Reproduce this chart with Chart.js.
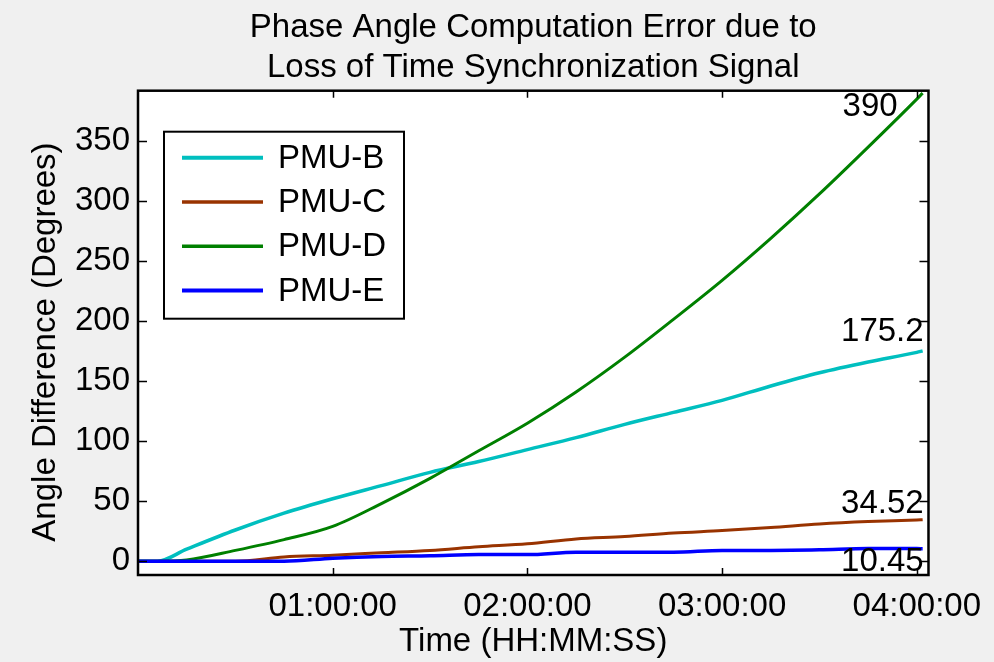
<!DOCTYPE html>
<html>
<head>
<meta charset="utf-8">
<script src="https://cdn.jsdelivr.net/npm/chart.js@4/dist/chart.umd.min.js"></script>
<style>
  html, body { margin: 0; padding: 0; background: #f0f0f0; }
  #chart { display: block; }
</style>
</head>
<body>
<canvas id="chart" width="994" height="662"></canvas>
<script>
// time axis in hours since the sync signal was lost
const hours = [0, 0.1, 0.25, 0.5, 0.75, 1, 1.25, 1.5, 1.75, 2, 2.25, 2.5, 2.75, 3, 3.25, 3.5, 3.75, 4, 4.03];
const pmuB = [0, 0, 10, 26, 40, 52, 63, 74, 83, 93, 103, 114, 124, 134, 146, 157, 166, 174, 175.2];
const pmuC = [0, 0, 0, 0, 3.5, 5, 7, 9, 12, 14.5, 18.5, 20.5, 23.5, 25.5, 28, 31, 33, 34.3, 34.52];
const pmuD = [0, 0, 1, 9, 18, 29, 48, 69, 92, 115, 141, 170, 201.5, 234, 269, 306, 345, 385, 390];
const pmuE = [0, 0, 0, 0, 0, 2.5, 4, 4.5, 5.5, 5.5, 7.5, 7.5, 7.5, 9, 9, 9.5, 10.5, 10.5, 10.45];
const seriesNames = ['PMU-B', 'PMU-C', 'PMU-D', 'PMU-E'];
const yTicks = [0, 50, 100, 150, 200, 250, 300, 350];
const xTicks = [1, 2, 3, 4];
const xTickLabels = ['01:00:00', '02:00:00', '03:00:00', '04:00:00'];

const FONT = "'Liberation Sans', Arial, Helvetica, sans-serif";
const colors = ['#00bfbf', '#993300', '#008000', '#0000ff'];
const widths = [3.5, 3, 3, 3.5];
const series = [pmuB, pmuC, pmuD, pmuE];

// where the final-value text sits relative to the last point (px)
const endOffsets = [
  { dx: 1, dy: -9.5 },
  { dx: 1, dy: -6.5 },
  { dx: -25, dy: 22.5 },
  { dx: 1, dy: 22 },
];

Chart.defaults.font.family = FONT;
Chart.defaults.font.size = 33;
Chart.defaults.color = '#000';

const matlabFrame = {
  id: 'matlabFrame',
  beforeDraw(chart) {
    const { ctx, chartArea: a } = chart;
    ctx.save();
    ctx.fillStyle = '#ffffff';
    ctx.fillRect(a.left, a.top, a.right - a.left, a.bottom - a.top);
    ctx.restore();
  },
  afterDatasetsDraw(chart) {
    const { ctx, chartArea: a } = chart;
    const xs = chart.scales.x, ys = chart.scales.y;
    ctx.save();
    ctx.beginPath();
    ctx.rect(a.left, a.top, a.right - a.left, a.bottom - a.top);
    ctx.clip();
    ctx.font = '33px ' + FONT;
    ctx.fillStyle = '#000';
    ctx.textAlign = 'right';
    ctx.textBaseline = 'alphabetic';
    series.forEach((vals, i) => {
      const last = vals.length - 1;
      const px = xs.getPixelForValue(hours[last]);
      const py = ys.getPixelForValue(vals[last]);
      ctx.fillText(String(vals[last]), px + endOffsets[i].dx, py + endOffsets[i].dy);
    });
    ctx.restore();
  },
  afterDraw(chart) {
    const { ctx, chartArea: a } = chart;
    const xs = chart.scales.x, ys = chart.scales.y;
    ctx.save();
    ctx.strokeStyle = '#000';
    ctx.lineWidth = 1.5;
    ctx.beginPath();
    ys.ticks.forEach(t => {
      const py = Math.round(ys.getPixelForValue(t.value)) + 0.5;
      ctx.moveTo(a.left, py); ctx.lineTo(a.left + 9, py);
      ctx.moveTo(a.right, py); ctx.lineTo(a.right - 9, py);
    });
    xs.ticks.forEach(t => {
      const px = Math.round(xs.getPixelForValue(t.value)) + 0.5;
      ctx.moveTo(px, a.bottom); ctx.lineTo(px, a.bottom - 7);
      ctx.moveTo(px, a.top); ctx.lineTo(px, a.top + 7);
    });
    ctx.stroke();

    // axes box
    ctx.lineWidth = 2.5;
    ctx.strokeRect(a.left, a.top, a.right - a.left, a.bottom - a.top);

    // legend inside the axes, upper left
    const bx = a.left + 26, by = a.top + 41, bw = 240, bh = 187;
    ctx.fillStyle = '#ffffff';
    ctx.fillRect(bx, by, bw, bh);
    ctx.lineWidth = 2;
    ctx.strokeRect(bx, by, bw, bh);
    ctx.font = '33px ' + FONT;
    ctx.textAlign = 'left';
    ctx.textBaseline = 'middle';
    chart.data.datasets.forEach((ds, i) => {
      const ry = by + 26 + i * 44.3;
      ctx.strokeStyle = ds.borderColor;
      ctx.lineWidth = ds.borderWidth + 0.5;
      ctx.beginPath();
      ctx.moveTo(bx + 18, ry); ctx.lineTo(bx + 99, ry);
      ctx.stroke();
      ctx.fillStyle = '#000';
      ctx.fillText(ds.label, bx + 114, ry + 1);
    });
    ctx.restore();
  }
};

const datasets = series.map((vals, i) => ({
  label: seriesNames[i],
  data: hours.map((h, k) => ({ x: h, y: vals[k] })),
  borderColor: colors[i],
  backgroundColor: colors[i],
  borderWidth: widths[i],
  pointRadius: 0,
  cubicInterpolationMode: 'monotone',
  fill: false,
  order: series.length - i,
}));

new Chart(document.getElementById('chart'), {
  type: 'line',
  data: { datasets },
  plugins: [matlabFrame],
  options: {
    responsive: false,
    animation: false,
    layout: { padding: { left: 0, right: 64, top: 0, bottom: 0 } },
    scales: {
      x: {
        type: 'linear',
        min: 0,
        max: 4.06,
        grid: { display: false, drawTicks: false },
        border: { display: false },
        afterBuildTicks: s => { s.ticks = xTicks.map(v => ({ value: v })); },
        afterFit: s => { s.height = 87; },
        ticks: {
          padding: 12,
          maxRotation: 0,
          autoSkip: false,
          callback: (v, i) => xTickLabels[i],
        },
        title: {
          display: true,
          text: 'Time (HH:MM:SS)',
          font: { size: 33 },
          padding: 0,
        },
      },
      y: {
        min: -11.5,
        max: 392,
        grid: { display: false, drawTicks: false },
        border: { display: false },
        afterBuildTicks: s => { s.ticks = yTicks.map(v => ({ value: v })); },
        afterFit: s => { s.width = 138; },
        ticks: {
          padding: 8,
          autoSkip: false,
          callback: v => String(v),
        },
        title: {
          display: true,
          text: 'Angle Difference (Degrees)  ',
          font: { size: 33 },
          padding: { top: 26, bottom: 0 },
        },
      },
    },
    plugins: {
      legend: { display: false },
      tooltip: { enabled: false },
      title: {
        display: true,
        fullSize: false,
        text: ['Phase Angle Computation Error due to', 'Loss of Time Synchronization Signal'],
        font: { size: 33, weight: 'normal', lineHeight: 40 / 33 },
        color: '#000',
        padding: { top: 8, bottom: 2.7 },
      },
    },
  },
});
</script>
</body>
</html>
